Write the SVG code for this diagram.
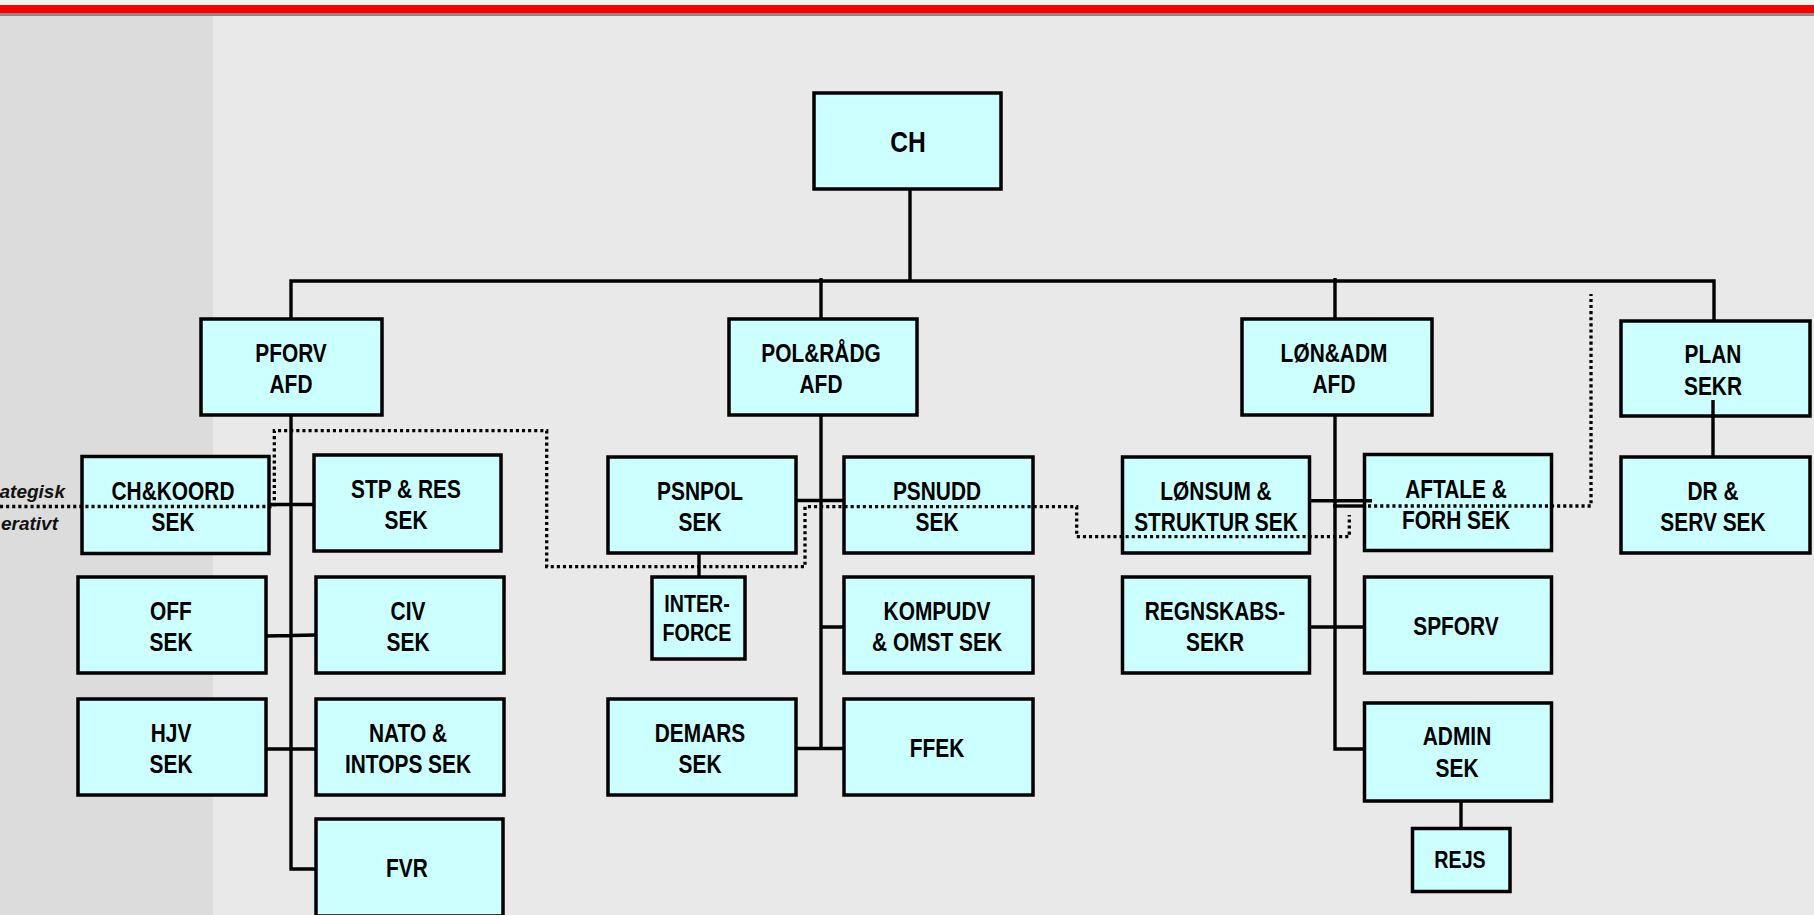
<svg xmlns="http://www.w3.org/2000/svg" width="1814" height="915" viewBox="0 0 1814 915">
<style>
.bx{fill:#ccffff;stroke:#000;stroke-width:3.5}
.t{font-family:"Liberation Sans",Arial,sans-serif;font-weight:bold;font-size:25.5px;fill:#000;text-anchor:middle}
.ts{font-size:24px}
.tl{font-size:30px}
.c{fill:none;stroke:#000;stroke-width:3.4}
.d{fill:none;stroke:#000;stroke-width:3.3;stroke-dasharray:3.1 3;stroke-linecap:butt}
.lab{font-family:"Liberation Sans",Arial,sans-serif;font-weight:bold;font-style:italic;font-size:19px;fill:#111;text-anchor:end}
</style>
<rect x="0" y="0" width="1814" height="915" fill="#e9e9e9"/>
<rect x="0" y="16" width="213" height="899" fill="#dcdcdc"/>
<rect x="0" y="0" width="1814" height="5" fill="#f2f2f2"/>
<rect x="0" y="12.5" width="1814" height="3.5" fill="#8a8a8a"/>
<rect x="0" y="5" width="1814" height="8" fill="#ff0000"/>
<g id="labels">
<text class="lab" x="65" y="498">ategisk</text>
<text class="lab" x="58" y="530">erativt</text>
</g>
<g id="n-ch"><rect class="bx" x="814" y="93" width="187" height="96"/><text class="t tl" transform="matrix(.82 0 0 1 908 0)" x="0" y="152">CH</text></g>
<g id="n-pforv"><rect class="bx" x="201" y="319" width="181" height="96"/><text class="t" transform="matrix(.82 0 0 1 291 0)"><tspan x="0" y="362">PFORV</tspan><tspan x="0" y="393">AFD</tspan></text></g>
<g id="n-polradg"><rect class="bx" x="729" y="319" width="188" height="96"/><text class="t" transform="matrix(.82 0 0 1 821 0)"><tspan x="0" y="362">POL&amp;RÅDG</tspan><tspan x="0" y="393">AFD</tspan></text></g>
<g id="n-lonadm"><rect class="bx" x="1242" y="319" width="190" height="96"/><text class="t" transform="matrix(.82 0 0 1 1334 0)"><tspan x="0" y="362">LØN&amp;ADM</tspan><tspan x="0" y="393">AFD</tspan></text></g>
<g id="n-plan"><rect class="bx" x="1621" y="321" width="189" height="95"/><text class="t" transform="matrix(.82 0 0 1 1713 0)"><tspan x="0" y="363">PLAN</tspan><tspan x="0" y="395">SEKR</tspan></text></g>
<g id="n-chkoord"><rect class="bx" x="82" y="456.5" width="187" height="97"/><text class="t" transform="matrix(.82 0 0 1 173 0)"><tspan x="0" y="500">CH&amp;KOORD</tspan><tspan x="0" y="531.5">SEK</tspan></text></g>
<g id="n-stpres"><rect class="bx" x="314" y="455" width="187" height="96"/><text class="t" transform="matrix(.82 0 0 1 406 0)"><tspan x="0" y="498">STP &amp; RES</tspan><tspan x="0" y="529.5">SEK</tspan></text></g>
<g id="n-off"><rect class="bx" x="78" y="577" width="188" height="96"/><text class="t" transform="matrix(.82 0 0 1 171 0)"><tspan x="0" y="620">OFF</tspan><tspan x="0" y="651.5">SEK</tspan></text></g>
<g id="n-civ"><rect class="bx" x="316" y="577" width="188" height="96"/><text class="t" transform="matrix(.82 0 0 1 408 0)"><tspan x="0" y="620">CIV</tspan><tspan x="0" y="651.5">SEK</tspan></text></g>
<g id="n-hjv"><rect class="bx" x="78" y="699" width="188" height="96"/><text class="t" transform="matrix(.82 0 0 1 171 0)"><tspan x="0" y="742">HJV</tspan><tspan x="0" y="773.5">SEK</tspan></text></g>
<g id="n-nato"><rect class="bx" x="316" y="699" width="188" height="96"/><text class="t" transform="matrix(.82 0 0 1 408 0)"><tspan x="0" y="742">NATO &amp;</tspan><tspan x="0" y="773.5">INTOPS SEK</tspan></text></g>
<g id="n-fvr"><rect class="bx" x="316" y="819" width="187" height="97"/><text class="t" transform="matrix(.82 0 0 1 407 0)" x="0" y="877">FVR</text></g>
<g id="n-psnpol"><rect class="bx" x="608" y="457" width="188" height="96"/><text class="t" transform="matrix(.82 0 0 1 700 0)"><tspan x="0" y="500">PSNPOL</tspan><tspan x="0" y="531.5">SEK</tspan></text></g>
<g id="n-psnudd"><rect class="bx" x="844" y="457" width="189" height="96"/><text class="t" transform="matrix(.82 0 0 1 937 0)"><tspan x="0" y="500">PSNUDD</tspan><tspan x="0" y="531.5">SEK</tspan></text></g>
<g id="n-interforce"><rect class="bx" x="652" y="577" width="93" height="82"/><text class="t ts" transform="matrix(.82 0 0 1 697 0)"><tspan x="0" y="612.5">INTER-</tspan><tspan x="0" y="641.5">FORCE</tspan></text></g>
<g id="n-kompudv"><rect class="bx" x="844" y="577" width="189" height="96"/><text class="t" transform="matrix(.82 0 0 1 937 0)"><tspan x="0" y="620">KOMPUDV</tspan><tspan x="0" y="651.5">&amp; OMST SEK</tspan></text></g>
<g id="n-demars"><rect class="bx" x="608" y="699" width="188" height="96"/><text class="t" transform="matrix(.82 0 0 1 700 0)"><tspan x="0" y="742">DEMARS</tspan><tspan x="0" y="773.5">SEK</tspan></text></g>
<g id="n-ffek"><rect class="bx" x="844" y="699" width="189" height="96"/><text class="t" transform="matrix(.82 0 0 1 937 0)" x="0" y="757">FFEK</text></g>
<g id="n-lonsum"><rect class="bx" x="1122.5" y="457" width="187" height="96"/><text class="t" transform="matrix(.82 0 0 1 1216 0)"><tspan x="0" y="500">LØNSUM &amp;</tspan><tspan x="0" y="531.5">STRUKTUR SEK</tspan></text></g>
<g id="n-aftale"><rect class="bx" x="1364.5" y="454.5" width="187" height="96"/><text class="t" transform="matrix(.82 0 0 1 1456 0)"><tspan x="0" y="498">AFTALE &amp;</tspan><tspan x="0" y="529.5">FORH SEK</tspan></text></g>
<g id="n-regnskabs"><rect class="bx" x="1122.5" y="577" width="187" height="96"/><text class="t" transform="matrix(.82 0 0 1 1215 0)"><tspan x="0" y="620">REGNSKABS-</tspan><tspan x="0" y="651.5">SEKR</tspan></text></g>
<g id="n-spforv"><rect class="bx" x="1364.5" y="577" width="187" height="96"/><text class="t" transform="matrix(.82 0 0 1 1456 0)" x="0" y="635">SPFORV</text></g>
<g id="n-admin"><rect class="bx" x="1364.5" y="703" width="187" height="98"/><text class="t" transform="matrix(.82 0 0 1 1457 0)"><tspan x="0" y="745">ADMIN</tspan><tspan x="0" y="777">SEK</tspan></text></g>
<g id="n-rejs"><rect class="bx" x="1412.5" y="828.5" width="97.5" height="63"/><text class="t ts" transform="matrix(.82 0 0 1 1460 0)" x="0" y="868">REJS</text></g>
<g id="n-drserv"><rect class="bx" x="1621" y="457" width="189" height="96"/><text class="t" transform="matrix(.82 0 0 1 1713 0)"><tspan x="0" y="500">DR &amp;</tspan><tspan x="0" y="531.5">SERV SEK</tspan></text></g>
<g id="connectors">
<path class="c" d="M910 189V281M291 319V281H1714V321M821 319V278M1335 319V278"/>
<path class="c" d="M291 415V869H316M269 504.5H314M266 636L316 635M266 749H316"/>
<path class="c" d="M821 415V748.5M796 500.5H844M699 553V577M821 627H844M796 748.5H844"/>
<path class="c" d="M1335 415V749H1364.5M1309.5 500.7H1372M1309.5 627H1364.5M1461 801V828.5M1713 400V457"/>
<path class="c" stroke-width="4" d="M1333 506H1365"/>
<path class="d" d="M0 506.5H274.3V430.7H546.7V566.7H805V506.7H1076.7V536.7H1349.3V515"/>
<path class="d" d="M1368 506H1591V294"/>
</g>
</svg>
